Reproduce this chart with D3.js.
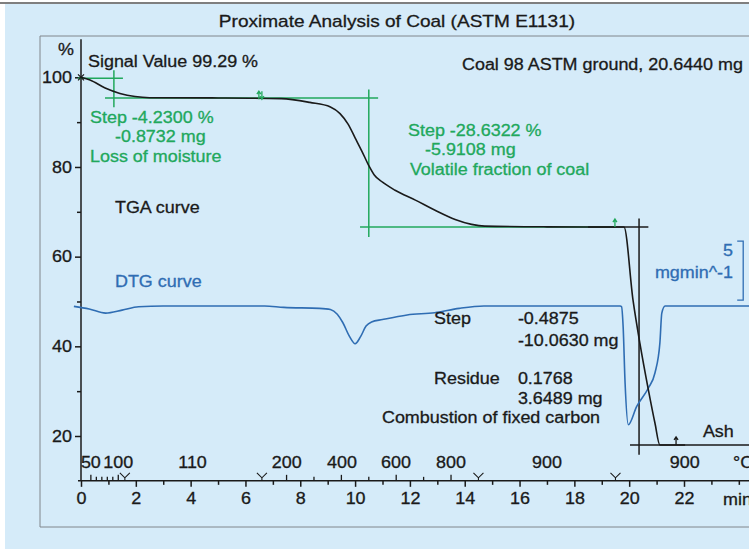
<!DOCTYPE html>
<html>
<head>
<meta charset="utf-8">
<script src="https://cdnjs.cloudflare.com/ajax/libs/d3/7.8.5/d3.min.js"></script>
<style>
  body { margin: 0; background: #fff; }
  text { font-family: "Liberation Sans", Arial, sans-serif; }
</style>
</head>
<body>
<div id="viz"></div>
<script>
// ---- data ----
// TGA curve: mass in % vs time in min
var tgaTime = [0, 0.33, 0.88, 1.42, 1.97, 2.5, 5.0, 7.3, 8.35, 9.1, 9.45, 9.75, 10.0, 10.25, 10.5, 10.7, 11.0, 11.46, 12.2, 12.9, 13.65, 14.25, 14.73, 17.0, 19.81, 20.14, 20.39, 20.70, 20.94, 21.12, 24.5];
var tgaMass = [100, 99.4, 97.6, 96.4, 95.7, 95.45, 95.4, 95.25, 94.4, 93.4, 91.9, 89.5, 86.5, 83.5, 80.3, 78.2, 76.6, 74.8, 72.6, 70.4, 68.3, 67.2, 66.8, 66.65, 66.6, 50.3, 40.7, 30.3, 22.9, 18.0, 18.0];

// DTG curve: mg/min vs time in min
var dtgTime = [-0.26, 0.3, 0.9, 1.5, 2.1, 3.0, 6.7, 7.4, 8.7, 9.1, 9.35, 9.55, 9.8, 10.0, 10.2, 10.4, 10.6, 11.0, 11.9, 12.9, 13.8, 14.7, 19.67, 19.72, 19.78, 19.85, 19.97, 20.27, 20.7, 20.94, 21.12, 21.19, 21.31, 24.5];
var dtgRate = [-0.03, -0.25, -0.6, -0.35, -0.06, 0, 0, -0.12, -0.2, -0.3, -0.7, -1.4, -2.6, -3.2, -2.6, -1.7, -1.35, -1.15, -0.76, -0.57, -0.2, 0, 0, -0.05, -1.78, -6.5, -10.06, -8.53, -6.95, -5.68, -3.14, -0.6, 0, 0];

// axis ticks
var yMajor = [20, 40, 60, 80, 100];
var yMinor = [30, 50, 70, 90];
var xMajor = [0, 2, 4, 6, 8, 10, 12, 14, 16, 18, 20, 22];
var xMinor = [1, 3, 5, 7, 9, 11, 13, 15, 17, 19, 21, 23, 24];

// temperature scale (°C) written along the time axis
var tempLabelTime = [0.36, 1.36, 4.07, 7.51, 9.52, 11.49, 13.5, 17.0, 22.03];
var tempLabelText = ["50", "100", "110", "200", "400", "600", "800", "900", "900"];
var tempTickMajor = [0.36, 1.36, 7.5, 9.5, 11.5, 13.5];
var tempTickMinor = [0.56, 0.76, 0.96, 1.16, 8.5, 10.5, 12.5];
var segmentTimes = [1.6, 6.6, 14.5, 19.5];

// ---- layout ----
var W = 749, H = 549;
var black = "#1a1a1a", green = "#21a85c", blue = "#2f6db3", frame = "#80868c";
var STRETCH = 1.12;

var svg = d3.select("#viz").append("svg")
    .attr("width", W)
    .attr("height", H);

svg.append("rect").attr("width", W).attr("height", H).attr("fill", "#fff");
svg.append("rect").attr("x", 5).attr("y", 4).attr("width", W - 5).attr("height", H - 4).attr("fill", "#d5ebf9");
svg.append("line").attr("x1", 0).attr("x2", W).attr("y1", 3).attr("y2", 3)
    .attr("stroke", "#555").attr("stroke-width", 1.5);

svg.append("text")
    .attr("x", 397).attr("y", 27)
    .attr("text-anchor", "middle")
    .attr("font-size", 17)
    .attr("fill", black)
    .text("Proximate Analysis of Coal (ASTM E1131)");

svg.append("path")
    .attr("d", "M749,36H40V527H749")
    .attr("fill", "none").attr("stroke", frame).attr("stroke-width", 1);

var x = d3.scaleLinear().domain([0, 22]).range([81, 684]);
var y = d3.scaleLinear().domain([20, 100]).range([436, 77.3]);
var yD = d3.scaleLinear().domain([0, 5]).range([306, 247]);
var yBase = y(10);

// ---- axes ----
var gy = svg.append("g").attr("transform", "translate(" + x(0) + ",0)");
gy.call(d3.axisLeft(y).tickValues(yMajor).tickSize(6).tickPadding(3));
gy.append("g").call(d3.axisLeft(y).tickValues(yMinor).tickSize(4).tickFormat(""));
gy.selectAll(".domain").remove();
gy.selectAll("line").attr("stroke", black).attr("stroke-width", 1.5);
gy.selectAll("text").attr("font-size", 16).attr("font-family", null).attr("fill", black);
svg.append("line")
    .attr("x1", x(0)).attr("x2", x(0))
    .attr("y1", y(108.5)).attr("y2", yBase)
    .attr("stroke", black).attr("stroke-width", 1.5);
svg.append("text").attr("x", 58).attr("y", 55).attr("font-size", 16).attr("fill", black).text("%");

var gx = svg.append("g").attr("transform", "translate(0," + yBase + ")");
gx.call(d3.axisBottom(x).tickValues(xMajor).tickSize(6).tickPadding(6));
gx.append("g").call(d3.axisBottom(x).tickValues(xMinor).tickSize(4).tickFormat(""));
gx.selectAll(".domain").remove();
gx.selectAll("line").attr("stroke", black).attr("stroke-width", 1.5);
gx.selectAll("text").attr("font-size", 16).attr("font-family", null).attr("fill", black);
svg.append("line")
    .attr("x1", x(-0.11)).attr("x2", W)
    .attr("y1", yBase).attr("y2", yBase)
    .attr("stroke", black).attr("stroke-width", 1.5);
svg.append("text").attr("x", 723).attr("y", 505).attr("font-size", 16).attr("fill", black).text("min");

// temperature ticks point up from the time axis
svg.selectAll(".ttick").data(tempTickMajor.map(function (t) { return [t, 6]; })
        .concat(tempTickMinor.map(function (t) { return [t, 4]; })))
    .enter().append("line")
    .attr("x1", function (d) { return x(d[0]); })
    .attr("x2", function (d) { return x(d[0]); })
    .attr("y1", yBase).attr("y2", function (d) { return yBase - d[1]; })
    .attr("stroke", black).attr("stroke-width", 1.3);

svg.selectAll(".tlabel").data(tempLabelTime)
    .enter().append("text")
    .attr("x", function (d) { return x(d); })
    .attr("y", yBase - 13)
    .attr("text-anchor", "middle")
    .attr("font-size", 16).attr("fill", black)
    .text(function (d, i) { return tempLabelText[i]; });
svg.append("text").attr("x", 733).attr("y", yBase - 13).attr("font-size", 16).attr("fill", black).text("°C");

// segment markers
svg.selectAll(".seg").data(segmentTimes)
    .enter().append("path")
    .attr("d", function (d) {
        var px = x(d);
        return "M" + (px - 5) + "," + (yBase - 8) + "L" + px + "," + (yBase - 3) + "L" + (px + 5) + "," + (yBase - 8) +
            "M" + px + "," + (yBase - 3) + "V" + yBase;
    })
    .attr("fill", "none").attr("stroke", black).attr("stroke-width", 1.1);

// ---- evaluation lines ----
function seg(t1, v1, t2, v2, col, w) {
    svg.append("line")
        .attr("x1", x(t1)).attr("y1", y(v1))
        .attr("x2", x(t2)).attr("y2", y(v2))
        .attr("stroke", col).attr("stroke-width", w || 1.5);
}
seg(-0.11, 99.8, 1.53, 99.8, green);
seg(1.2, 101.56, 1.2, 93.3, green);
seg(0.876, 95.4, 10.84, 95.4, green);
seg(10.5, 97.26, 10.5, 64.4, green);
seg(10.18, 66.6, 19.48, 66.6, green);

seg(18.5, 66.6, 20.7, 66.6, black);
seg(20.36, 68.5, 20.36, 15.8, black);
seg(20.03, 18.0, 22.04, 18.0, black);

// ---- curves ----
var dtgLine = d3.line()
    .x(function (d, i) { return x(dtgTime[i]); })
    .y(function (d) { return yD(d); })
    .curve(d3.curveMonotoneX);
svg.append("path").datum(dtgRate)
    .attr("d", dtgLine)
    .attr("fill", "none").attr("stroke", blue).attr("stroke-width", 1.6);

var tgaLine = d3.line()
    .x(function (d, i) { return x(tgaTime[i]); })
    .y(function (d) { return y(d); })
    .curve(d3.curveMonotoneX);
svg.append("path").datum(tgaMass)
    .attr("d", tgaLine)
    .attr("fill", "none").attr("stroke", black).attr("stroke-width", 1.6);

// small markers
var p0x = x(0), p0y = y(100);
svg.append("path")
    .attr("d", "M" + (p0x - 3) + "," + (p0y - 3) + "L" + (p0x + 3) + "," + (p0y + 3) + "M" + (p0x + 3) + "," + (p0y - 3) + "L" + (p0x - 3) + "," + (p0y + 3))
    .attr("stroke", black).attr("stroke-width", 1.2);

function arrowUp(px, py, col) {
    svg.append("path")
        .attr("d", "M" + px + "," + (py + 4) + "V" + (py - 3) + "M" + (px - 2) + "," + (py - 1) + "L" + px + "," + (py - 4) + "L" + (px + 2) + "," + (py - 1))
        .attr("fill", "none").attr("stroke", col).attr("stroke-width", 1.3);
}
function arrowDown(px, py, col) {
    svg.append("path")
        .attr("d", "M" + px + "," + (py - 4) + "V" + (py + 3) + "M" + (px - 2) + "," + (py + 1) + "L" + px + "," + (py + 4) + "L" + (px + 2) + "," + (py + 1))
        .attr("fill", "none").attr("stroke", col).attr("stroke-width", 1.3);
}
arrowUp(x(6.49), y(96.0), green);
arrowDown(x(6.6), y(96.0), green);
arrowUp(x(19.48), y(67.5), green);
arrowUp(x(21.71), y(18.9), black);

// DTG scale bracket
var bx = x(24.16);
svg.append("path")
    .attr("d", "M" + (bx - 6) + "," + yD(5.5) + "H" + bx + "V" + yD(0.5) + "H" + (bx - 6))
    .attr("fill", "none").attr("stroke", blue).attr("stroke-width", 1.3);

// ---- annotations (anchored in data units) ----
function label(t, v, txt, col, anchor) {
    svg.append("text")
        .attr("x", x(t)).attr("y", y(v))
        .attr("text-anchor", anchor || "start")
        .attr("font-size", 16).attr("fill", col)
        .text(txt);
}
label(0.255, 102.3, "Signal Value 99.29 %", black);
label(24.15, 101.6, "Coal 98 ASTM ground, 20.6440 mg", black, "end");
label(0.33, 89.7, "Step -4.2300 %", green);
label(1.24, 85.5, "-0.8732 mg", green);
label(0.33, 81.2, "Loss of moisture", green);
label(11.93, 86.8, "Step -28.6322 %", green);
label(12.55, 82.7, "-5.9108 mg", green);
label(12.0, 78.2, "Volatile fraction of coal", green);
label(1.24, 69.7, "TGA curve", black);
label(1.24, 53.2, "DTG curve", blue);
label(12.88, 44.9, "Step", black);
label(15.94, 44.9, "-0.4875", black);
label(15.94, 40.0, "-10.0630 mg", black);
label(12.88, 31.6, "Residue", black);
label(15.94, 31.6, "0.1768", black);
label(15.94, 27.1, "3.6489 mg", black);
label(10.98, 22.8, "Combustion of fixed carbon", black);
label(22.69, 19.8, "Ash", black);

svg.append("text").attr("x", x(23.79)).attr("y", yD(4.2))
    .attr("text-anchor", "end").attr("font-size", 16).attr("fill", blue).text("5");
svg.append("text").attr("x", x(23.79)).attr("y", yD(2.37))
    .attr("text-anchor", "end").attr("font-size", 16).attr("fill", blue).text("mgmin^-1");

// glyphs in the original are a little wider and heavier than Arial
svg.selectAll("text").each(function () {
    var t = d3.select(this);
    var w = this.getComputedTextLength();
    t.attr("textLength", w * STRETCH).attr("lengthAdjust", "spacingAndGlyphs")
        .attr("stroke", t.attr("fill")).attr("stroke-width", 0.3);
});
</script>
</body>
</html>
